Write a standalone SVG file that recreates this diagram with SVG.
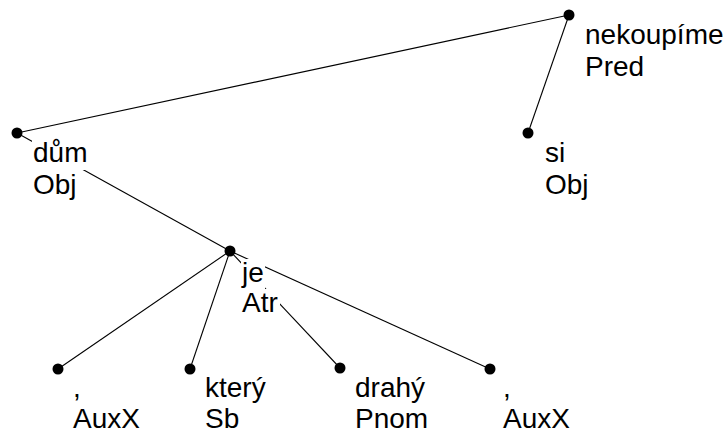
<svg xmlns="http://www.w3.org/2000/svg" width="725" height="433" viewBox="0 0 725 433">
  <style>
    .edge { stroke: #000; stroke-width: 1.1; fill: none; }
    .dot { fill: #000; }
    .bg { fill: #fff; }
    .lbl { font-family: "Liberation Sans", Arial, sans-serif; font-size: 28px; fill: #000; }
  </style>
  <rect width="725" height="433" fill="#fff"/>

  <!-- tree edges: parent dot to child dot -->
  <g id="connectors">
    <line class="edge" x1="569" y1="15" x2="17" y2="133"/>
    <line class="edge" x1="569" y1="15" x2="528" y2="133"/>
    <line class="edge" x1="17" y1="133" x2="230" y2="251"/>
    <line class="edge" x1="230" y1="251" x2="58" y2="369"/>
    <line class="edge" x1="230" y1="251" x2="190" y2="369"/>
    <line class="edge" x1="230" y1="251" x2="340" y2="368"/>
    <line class="edge" x1="230" y1="251" x2="490" y2="369"/>
  </g>

  <!-- nodes: white label boxes hide the edges passing under the labels -->
  <g id="n-nekoupime">
    <rect class="bg" x="584" y="21" width="141" height="31"/>
    <rect class="bg" x="584" y="53" width="61" height="31"/>
    <text class="lbl" x="585" y="44">nekoupíme</text>
    <text class="lbl" x="585" y="76">Pred</text>
    <circle class="dot" cx="569" cy="15" r="5.5"/>
  </g>

  <g id="n-dum">
    <rect class="bg" x="32" y="139" width="57" height="31"/>
    <rect class="bg" x="32" y="171" width="46" height="31"/>
    <text class="lbl" x="33" y="162">dům</text>
    <text class="lbl" x="33" y="194">Obj</text>
    <circle class="dot" cx="17" cy="133" r="5.5"/>
  </g>

  <g id="n-si">
    <rect class="bg" x="544" y="139" width="22" height="31"/>
    <rect class="bg" x="544" y="171" width="46" height="31"/>
    <text class="lbl" x="545" y="162">si</text>
    <text class="lbl" x="545" y="194">Obj</text>
    <circle class="dot" cx="528" cy="133" r="5.5"/>
  </g>

  <g id="n-je">
    <rect class="bg" x="241" y="259" width="24" height="31"/>
    <rect class="bg" x="241" y="289" width="39" height="31"/>
    <text class="lbl" x="242" y="282">je</text>
    <text class="lbl" x="242" y="312">Atr</text>
    <circle class="dot" cx="230" cy="251" r="5.5"/>
  </g>

  <g id="n-comma1">
    <rect class="bg" x="72" y="375" width="10" height="31"/>
    <rect class="bg" x="72" y="405" width="69" height="28"/>
    <text class="lbl" x="73" y="397">,</text>
    <text class="lbl" x="73" y="428">AuxX</text>
    <circle class="dot" cx="58" cy="369" r="5.5"/>
  </g>

  <g id="n-ktery">
    <rect class="bg" x="204" y="375" width="63" height="31"/>
    <rect class="bg" x="204" y="405" width="36" height="28"/>
    <text class="lbl" x="205" y="397">který</text>
    <text class="lbl" x="205" y="428">Sb</text>
    <circle class="dot" cx="190" cy="369" r="5.5"/>
  </g>

  <g id="n-drahy">
    <rect class="bg" x="354" y="374" width="72" height="31"/>
    <rect class="bg" x="354" y="405" width="75" height="28"/>
    <text class="lbl" x="355" y="397">drahý</text>
    <text class="lbl" x="355" y="428">Pnom</text>
    <circle class="dot" cx="340" cy="368" r="5.5"/>
  </g>

  <g id="n-comma2">
    <rect class="bg" x="502" y="375" width="10" height="31"/>
    <rect class="bg" x="502" y="405" width="69" height="28"/>
    <text class="lbl" x="503" y="397">,</text>
    <text class="lbl" x="503" y="428">AuxX</text>
    <circle class="dot" cx="490" cy="369" r="5.5"/>
  </g>
</svg>
